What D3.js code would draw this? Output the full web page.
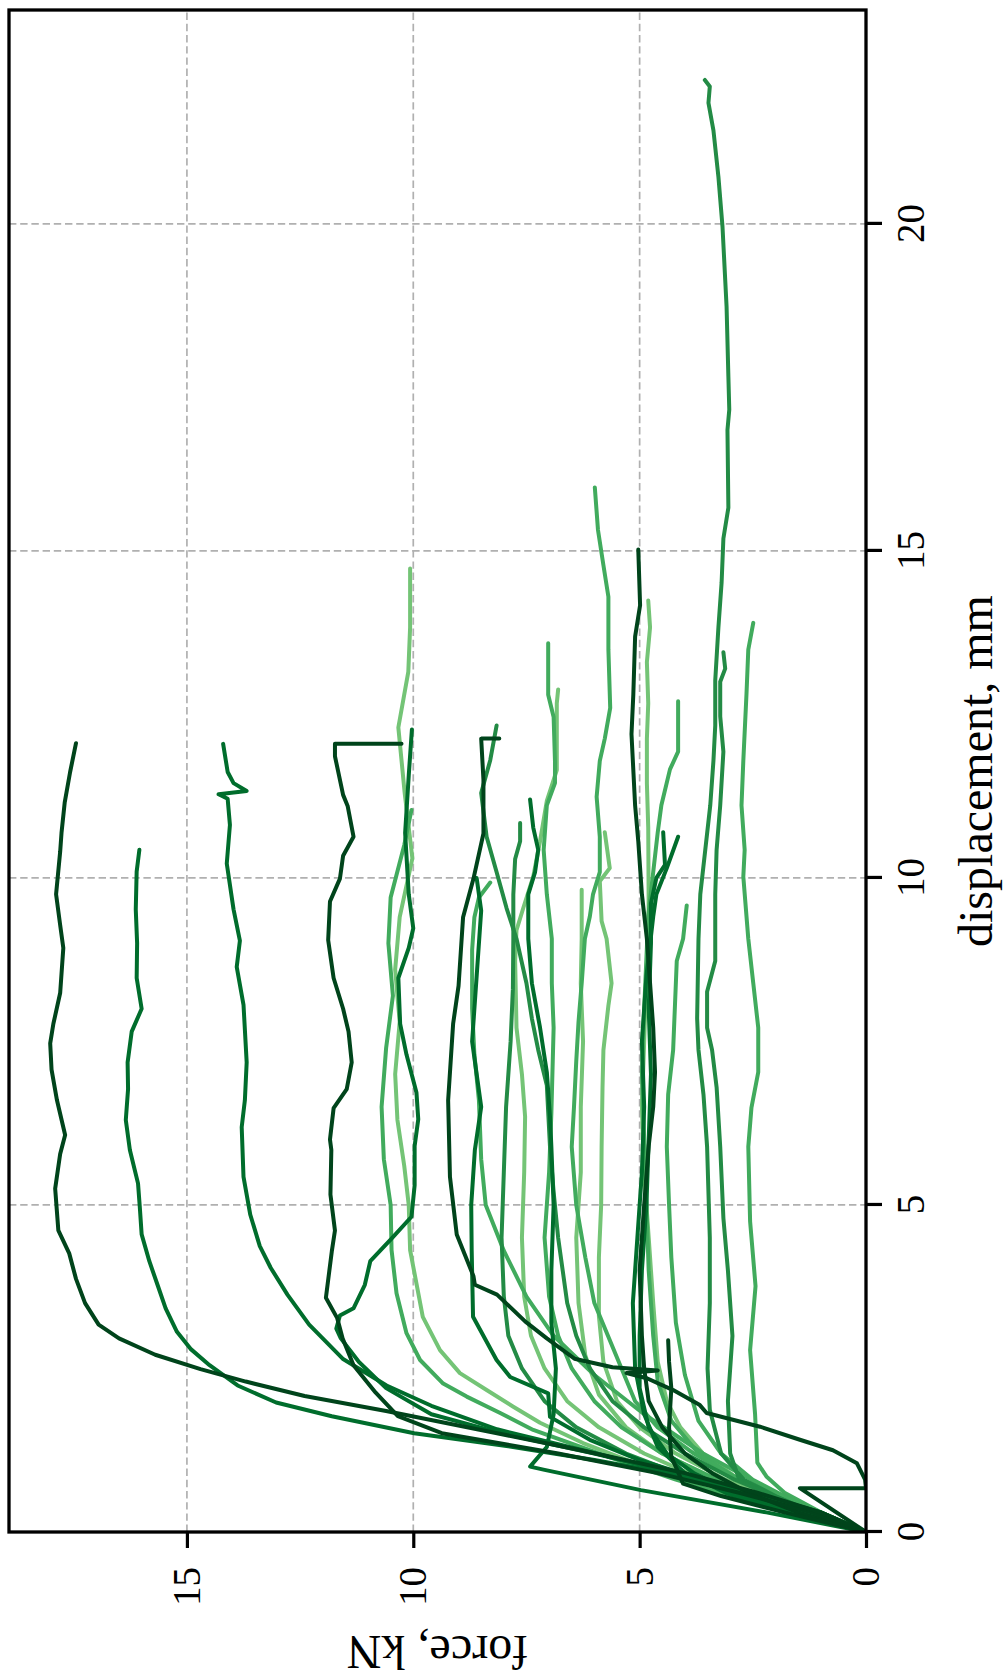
<!DOCTYPE html>
<html>
<head>
<meta charset="utf-8">
<script src="https://cdn.jsdelivr.net/npm/d3@7"></script>
<style>
  body { margin: 0; background: #fff; }
  text { font-family: "Liberation Serif", "DejaVu Serif", serif; fill: #000; }
</style>
</head>
<body>
<svg id="chart"></svg>
<script>
const width = 1006;
const height = 1679;

// axis ranges and ticks
const dispMax = 23.27;
const forceMax = 18.93;
const dispTicks = [0, 5, 10, 15, 20];
const forceTicks = [0, 5, 10, 15];

// specimen curves: [displacement mm, force kN]
const s01 = [[0,0],[0.3,1.0],[0.6,2.4],[0.9,4.0],[1.25,6.3],[1.51,8.15],[1.85,10.6],[2.08,12.4],[2.3,13.7],[2.49,14.7],[2.71,15.7],[2.96,16.5],[3.17,16.95],[3.5,17.25],[3.87,17.45],[4.26,17.6],[4.61,17.84],[5.25,17.91],[5.78,17.8],[6.07,17.69],[6.6,17.87],[7.07,17.99],[7.47,18.02],[7.77,17.95],[8.24,17.8],[8.93,17.73],[9.28,17.8],[9.75,17.89],[10.4,17.8],[10.69,17.77],[11.15,17.7],[11.62,17.58],[12.06,17.45]];
const s02 = [[0,0],[0.3,1.1],[0.6,2.6],[0.9,4.4],[1.1,6.0],[1.31,7.9],[1.51,9.98],[1.77,11.8],[1.98,13.03],[2.24,13.88],[2.55,14.5],[2.8,14.92],[3.06,15.22],[3.42,15.47],[3.78,15.65],[4.14,15.83],[4.55,16.0],[4.96,16.04],[5.33,16.08],[5.84,16.26],[6.3,16.35],[6.77,16.3],[7.18,16.31],[7.65,16.22],[8.0,16.0],[8.47,16.11],[9.0,16.1],[9.52,16.13],[10.1,16.11],[10.43,16.05]];
const s03 = [[0,0],[0.3,1.0],[0.69,3.0],[1.0,4.8],[1.26,6.3],[1.57,8.15],[1.93,9.6],[2.24,10.59],[2.65,11.56],[3.17,12.3],[3.63,12.78],[4.04,13.15],[4.37,13.39],[4.85,13.6],[5.43,13.75],[6.19,13.79],[6.6,13.72],[7.18,13.68],[8.06,13.75],[8.64,13.9],[9.04,13.83],[9.52,13.97],[10.22,14.12],[10.81,14.05],[11.21,14.1],[11.28,14.3],[11.33,13.68],[11.45,13.97],[11.62,14.1],[12.05,14.2]];
const s04 = [[0,0],[0.3,1.2],[0.6,2.8],[0.9,4.6],[1.2,6.8],[1.51,9.37],[1.77,10.34],[2.13,10.83],[2.55,11.32],[2.96,11.56],[3.27,11.68],[3.58,11.93],[4.29,11.8],[4.61,11.73],[5.16,11.83],[5.84,11.81],[6.0,11.84],[6.48,11.76],[6.77,11.47],[7.18,11.36],[7.65,11.43],[8.0,11.55],[8.47,11.76],[9.05,11.88],[9.64,11.84],[9.99,11.62],[10.34,11.55],[10.63,11.32],[11.1,11.45],[11.27,11.55],[11.86,11.73],[12.05,11.73],[12.05,10.26]];
const s05 = [[0,0],[0.3,1.0],[0.6,2.5],[0.9,4.2],[1.2,6.0],[1.5,8.0],[1.8,9.6],[2.2,10.6],[2.6,11.2],[2.96,11.6],[3.11,11.7],[3.31,11.62],[3.42,11.32],[3.78,11.07],[4.14,10.95],[4.5,10.46],[4.82,10.04],[5.3,9.97],[5.9,9.97],[6.31,9.89],[6.72,9.93],[7.3,10.15],[7.77,10.29],[8.47,10.33],[8.93,10.1],[9.23,10.0],[9.75,10.1],[10.69,10.18],[11.57,10.1],[12.27,10.03]];
const s06 = [[0,0],[0.4,2.1],[0.7,3.6],[1.0,4.9],[1.36,6.25],[1.67,7.2],[1.92,7.8],[2.17,8.38],[2.43,8.97],[2.78,9.41],[3.29,9.79],[4.31,10.07],[5.0,10.1],[5.6,10.2],[6.3,10.35],[7.0,10.4],[7.8,10.3],[8.6,10.4],[9.4,10.3],[10.3,10.02],[11.3,10.19],[12.3,10.33],[13.15,10.11],[13.83,10.07],[14.73,10.07]];
const s07 = [[0,0],[0.4,2.3],[0.8,4.2],[1.2,5.9],[1.56,7.35],[1.82,8.08],[2.07,8.82],[2.27,9.34],[2.63,9.85],[3.04,10.15],[3.65,10.37],[4.31,10.48],[5.0,10.5],[5.7,10.65],[6.5,10.7],[7.4,10.6],[8.2,10.45],[9.0,10.55],[9.7,10.5],[10.5,10.2],[11.04,10.04]];
const s08 = [[0,0],[0.67,1.46],[0.67,0],[0.8,0.02],[1.05,0.2],[1.25,0.73],[1.41,1.46],[1.61,2.34],[1.82,3.52],[1.94,3.67],[2.17,4.26],[2.35,4.84],[2.43,5.29],[2.47,4.6],[2.52,5.6],[2.65,6.44],[2.96,7.05],[3.22,7.53],[3.63,8.15],[3.78,8.64],[3.91,8.67],[4.55,9.04],[5.43,9.19],[6.6,9.23],[7.77,9.12],[8.35,9.0],[9.4,8.9],[9.99,8.67],[10.68,8.45],[11.5,8.45],[12.13,8.5],[12.13,8.1]];
const s09 = [[0,0],[0.4,1.5],[0.8,2.9],[1.2,4.0],[1.6,4.9],[2.0,5.6],[2.5,6.1],[3.0,6.4],[3.5,6.6],[4.5,6.8],[5.2,6.9],[5.89,6.98],[6.83,7.05],[7.37,7.24],[7.85,7.38],[8.39,7.5],[9.07,7.72],[9.54,7.94],[10.09,8.16],[10.63,8.38],[11.3,8.5],[11.8,8.3],[12.33,8.16]];
const s10 = [[0,0],[0.4,1.5],[0.8,2.8],[1.2,3.8],[1.6,4.6],[2.0,5.1],[2.5,5.4],[3.0,5.7],[3.5,6.0],[4.2,6.2],[5.0,6.4],[5.89,6.5],[6.5,6.45],[7.2,6.4],[7.8,6.35],[8.39,6.28],[9.07,6.21],[9.41,6.1],[9.75,6.03],[10.09,5.88],[10.63,5.88],[11.24,5.95],[11.79,5.88],[12.13,5.77],[12.6,5.65],[13.49,5.69],[14.3,5.69],[14.78,5.8],[15.32,5.92],[15.97,5.99]];
const s11 = [[0,0],[0.3,1.5],[0.6,2.6],[0.9,3.4],[1.2,4.0],[1.6,4.5],[2.0,4.8],[2.5,4.9],[3.0,4.95],[4.0,5.0],[5.0,4.9],[5.9,4.8],[6.5,4.7],[7.03,4.66],[7.71,4.7],[8.39,4.77],[9.07,4.84],[9.75,4.95],[10.56,5.03],[11.11,5.1],[12.2,5.18],[12.8,5.14],[13.69,5.1],[14.17,4.99],[15.02,5.03]];
const s12 = [[0,0],[0.4,1.6],[0.8,2.8],[1.2,3.6],[1.6,4.1],[2.0,4.4],[2.6,4.6],[3.5,4.7],[4.5,4.8],[5.5,4.9],[6.5,4.95],[7.5,4.9],[8.5,4.85],[9.5,4.8],[10.77,4.81],[11.45,4.84],[12.13,4.84],[12.67,4.81],[13.3,4.84],[13.83,4.77],[14.24,4.81]];
const s13 = [[0,0],[0.3,1.2],[0.55,2.0],[0.8,2.7],[1.2,3.2],[1.87,3.45],[2.5,3.5],[3.5,3.45],[4.5,3.45],[5.89,3.51],[6.69,3.59],[7.37,3.7],[7.85,3.73],[9.07,3.7],[9.75,3.66],[10.43,3.55],[11.11,3.44],[11.79,3.37],[12.33,3.33],[13.02,3.33],[13.83,3.26],[14.51,3.19],[15.19,3.15],[15.66,3.04],[16.85,3.06],[17.16,3.02],[17.67,3.04],[18.74,3.08],[19.96,3.17],[20.72,3.26],[21.43,3.37],[21.85,3.48],[22.1,3.45],[22.2,3.56]];
const s14 = [[0,0],[0.3,1.2],[0.55,2.1],[0.8,2.8],[1.2,3.0],[2.0,3.05],[3.0,2.95],[4.0,3.05],[4.8,3.15],[5.89,3.22],[6.8,3.3],[7.37,3.4],[7.71,3.51],[8.26,3.51],[8.73,3.33],[9.75,3.33],[10.43,3.3],[11.11,3.22],[11.93,3.15],[12.47,3.22],[13.0,3.22],[13.2,3.11],[13.45,3.15]];
const s15 = [[0,0],[0.3,1.0],[0.6,1.8],[0.85,2.2],[1.06,2.4],[1.8,2.45],[2.78,2.56],[3.76,2.44],[4.75,2.56],[5.89,2.6],[6.49,2.53],[7.03,2.38],[7.71,2.38],[8.39,2.49],[9.07,2.6],[10.02,2.71],[10.43,2.68],[11.11,2.75],[11.79,2.71],[12.81,2.64],[13.49,2.6],[13.9,2.49]];
const s16 = [[0,0],[0.4,1.8],[0.8,3.3],[1.2,4.5],[1.6,5.4],[2.0,6.0],[2.5,6.5],[3.0,6.8],[3.6,7.0],[4.5,7.1],[5.5,7.0],[6.4,6.95],[7.71,6.9],[8.39,6.94],[9.07,6.94],[9.75,7.05],[10.43,7.12],[11.11,7.05],[11.45,6.87],[11.78,6.87],[12.46,6.9],[12.8,7.02],[13.59,7.02]];
const s17 = [[0,0],[0.4,1.9],[0.8,3.6],[1.2,4.9],[1.6,5.9],[2.0,6.6],[2.5,7.1],[3.0,7.4],[3.6,7.55],[4.5,7.6],[5.5,7.55],[6.35,7.53],[7.0,7.6],[7.71,7.72],[8.73,7.75],[9.2,7.72],[9.54,7.57],[10.02,7.35],[10.56,7.2],[11.18,7.05],[11.65,6.83],[12.67,6.83],[12.88,6.8]];
const s18 = [[0,0],[0.4,2.0],[0.8,3.8],[1.2,5.3],[1.6,6.4],[2.0,7.1],[2.5,7.6],[3.0,7.9],[3.6,8.0],[4.5,8.05],[5.5,8.0],[6.5,7.95],[7.5,7.85],[8.3,7.8],[9.07,7.79],[9.75,7.79],[10.29,7.75],[10.56,7.64],[10.84,7.64]];
const s19 = [[0,0],[0.3,2.2],[0.64,4.97],[0.95,7.1],[1.0,7.42],[1.3,7.05],[1.8,6.9],[2.5,6.85],[3.2,6.95],[4.0,6.95],[5.0,6.9],[5.89,6.95],[6.35,6.98],[7.03,7.05],[7.71,7.2],[8.39,7.38],[9.07,7.46],[9.75,7.46],[10.09,7.31],[10.43,7.24],[10.77,7.35],[11.2,7.42]];
const s20 = [[0,0],[0.3,1.6],[0.6,2.9],[0.9,3.8],[1.2,4.4],[1.6,4.8],[2.2,5.0],[3.0,5.0],[4.0,4.95],[5.0,4.85],[6.0,4.8],[7.0,4.75],[8.0,4.8],[9.0,4.75],[9.61,4.75],[10.0,4.63],[10.2,4.44],[10.7,4.48]];
const s21 = [[0,0],[0.3,1.8],[0.6,3.1],[0.9,4.0],[1.3,4.6],[1.8,4.9],[2.5,5.1],[3.5,5.15],[4.5,5.05],[5.5,4.95],[6.5,4.9],[7.5,4.95],[8.5,4.85],[9.41,4.7],[9.75,4.63],[10.15,4.4],[10.63,4.15]];
const s22 = [[0,0],[0.4,1.6],[0.8,2.8],[1.2,3.7],[1.7,4.3],[2.3,4.6],[3.0,4.7],[4.0,4.8],[5.0,4.85],[6.0,4.9],[7.0,4.95],[8.0,4.9],[9.41,4.81],[10.09,4.7],[10.7,4.6],[11.11,4.52],[11.66,4.33],[11.93,4.15],[12.7,4.15]];
const s23 = [[0,0],[0.4,1.4],[0.8,2.5],[1.2,3.2],[1.7,3.7],[2.4,4.0],[3.2,4.2],[4.2,4.3],[5.0,4.35],[5.89,4.4],[6.69,4.37],[7.37,4.26],[8.05,4.22],[8.73,4.18],[9.07,4.04],[9.58,3.96]];
const s24 = [[0,0],[0.4,1.7],[0.8,3.1],[1.2,4.2],[1.6,5.0],[2.0,5.5],[2.6,5.8],[3.3,5.9],[4.2,5.9],[5.0,5.85],[5.89,5.84],[6.8,5.82],[7.37,5.8],[8.05,5.69],[8.39,5.62],[9.07,5.73],[9.34,5.84],[9.95,5.88],[10.15,5.66],[10.7,5.77]];
const s25 = [[0,0],[0.4,1.8],[0.8,3.3],[1.2,4.5],[1.6,5.3],[2.1,5.9],[2.7,6.2],[3.5,6.35],[4.5,6.4],[5.5,6.3],[6.5,6.3],[7.5,6.25],[8.39,6.3],[9.07,6.28],[9.82,6.28]];
const s26 = [[0,0],[0.3,1.8],[0.55,3.2],[0.74,4.04],[1.15,4.3],[1.6,4.35],[2.2,4.3],[2.6,4.35],[2.93,4.37]];
const s27 = [[0,0],[0.6,2.0],[1.2,3.6],[1.8,4.9],[2.4,6.0],[3.0,6.9],[3.6,7.5],[4.3,8.0],[5.0,8.4],[5.7,8.5],[6.6,8.55],[7.3,8.65],[8.0,8.7],[8.9,8.7],[9.4,8.65],[9.7,8.55],[9.93,8.3]];
const s28 = [[0,0],[0.4,1.9],[0.8,3.6],[1.1,5.0],[1.41,6.1],[1.76,6.98],[2.12,7.02],[2.37,7.86],[2.63,8.16],[3.29,8.68],[4.31,8.71],[5.0,8.72],[5.84,8.64],[6.5,8.5],[7.5,8.7],[8.5,8.6],[9.5,8.5],[10.0,8.6]];

const series = [s06, s17, s24, s25, s12, s07, s10, s15, s16, s22, s23, s27,
                s13, s14, s09, s18, s19, s20, s21, s28, s02, s03, s05,
                s11, s26, s04, s08, s01];
// shade grade per specimen (1 = lightest, 5 = darkest), same order as series
const specimenGrade = [1, 1, 1, 1, 1, 2, 2, 2, 2, 2, 2, 2,
                       3, 3, 3, 3, 4, 4, 4, 4, 4, 4, 4,
                       5, 5, 5, 5, 5];

// plot area in page coordinates (chart is drawn turned a quarter turn)
const plotLeft = 9, plotRight = 866, plotTop = 10, plotBottom = 1532;
const W = plotBottom - plotTop;   // displacement axis length
const H = plotRight - plotLeft;   // force axis length

const svg = d3.select('#chart')
    .attr('width', width)
    .attr('height', height);

svg.append('rect')
    .attr('width', width)
    .attr('height', height)
    .attr('fill', '#fff');

const g = svg.append('g')
    .attr('transform', `translate(${plotLeft}, ${plotBottom}) rotate(-90)`);

const x = d3.scaleLinear().domain([0, dispMax]).range([0, W]);
const y = d3.scaleLinear().domain([0, forceMax]).range([H, 0]);

const color = d3.scaleOrdinal()
    .domain([1, 2, 3, 4, 5])
    .range(d3.schemeGreens[9].slice(4));

// grid
const grid = g.append('g').attr('class', 'grid');
grid.selectAll('.gx')
    .data(dispTicks)
    .enter().append('line')
    .attr('x1', d => x(d)).attr('x2', d => x(d))
    .attr('y1', 0).attr('y2', H);
grid.selectAll('.gy')
    .data(forceTicks)
    .enter().append('line')
    .attr('x1', 0).attr('x2', W)
    .attr('y1', d => y(d)).attr('y2', d => y(d));
grid.selectAll('line')
    .attr('stroke', '#b0b0b0')
    .attr('stroke-width', 1.7)
    .attr('stroke-dasharray', '7.4,3.8');

// curves
g.append('clipPath')
    .attr('id', 'plot-clip')
    .append('rect')
    .attr('width', W)
    .attr('height', H);

const line = d3.line()
    .x(d => x(d[0]))
    .y(d => y(d[1]));

g.append('g')
    .attr('clip-path', 'url(#plot-clip)')
    .selectAll('path')
    .data(series)
    .enter().append('path')
    .attr('d', line)
    .attr('fill', 'none')
    .attr('stroke', (d, i) => color(specimenGrade[i]))
    .attr('stroke-width', 4)
    .attr('stroke-linejoin', 'round')
    .attr('stroke-linecap', 'round');

// axes
const xAxis = d3.axisBottom(x)
    .tickValues(dispTicks)
    .tickFormat(d3.format('d'))
    .tickSize(16)
    .tickSizeOuter(0)
    .tickPadding(14);

const yAxis = d3.axisLeft(y)
    .tickValues(forceTicks)
    .tickFormat(d3.format('d'))
    .tickSize(16)
    .tickSizeOuter(0)
    .tickPadding(19);

const gx = g.append('g')
    .attr('transform', `translate(0, ${H})`)
    .call(xAxis);
const gy = g.append('g')
    .call(yAxis);

[gx, gy].forEach(a => {
    a.attr('font-family', null);
    a.select('.domain').remove();
    a.selectAll('.tick line')
        .attr('stroke', '#000')
        .attr('stroke-width', 3.2);
    a.selectAll('.tick text')
        .style('font-family', '"Liberation Serif", "DejaVu Serif", serif')
        .style('font-size', '39px')
        .attr('fill', '#000');
});

// frame
g.append('rect')
    .attr('width', W)
    .attr('height', H)
    .attr('fill', 'none')
    .attr('stroke', '#000')
    .attr('stroke-width', 3.3);

// axis labels
g.append('text')
    .attr('x', W / 2)
    .attr('y', H + 126)
    .attr('text-anchor', 'middle')
    .style('font-size', '48px')
    .text('displacement, mm');

g.append('text')
    .attr('transform', `translate(-104, ${H / 2}) rotate(-90)`)
    .attr('text-anchor', 'middle')
    .style('font-size', '48px')
    .text('force, kN');
</script>
</body>
</html>
